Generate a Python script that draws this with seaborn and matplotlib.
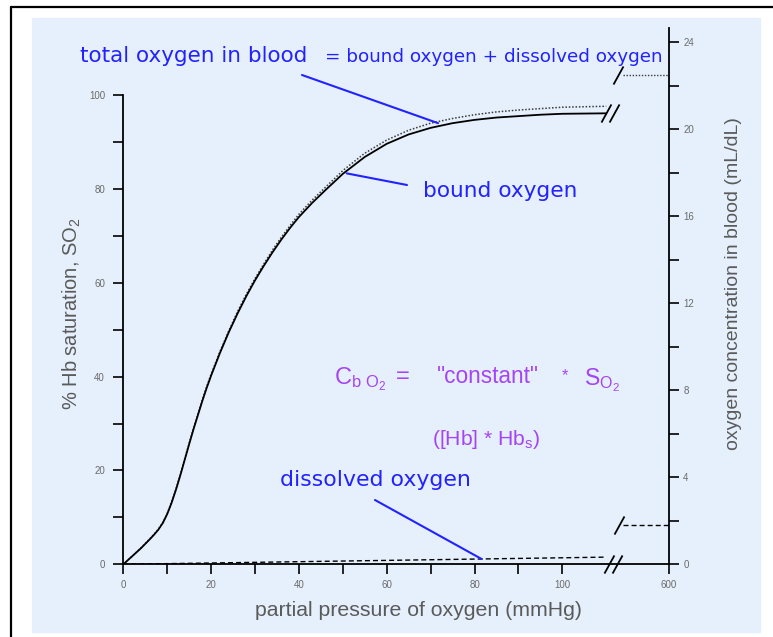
import numpy as np
import pandas as pd
import matplotlib
matplotlib.use("Agg")
import matplotlib.pyplot as plt
from matplotlib.path import Path
from matplotlib.patches import Rectangle
from matplotlib.lines import Line2D
import seaborn as sns

# ---- data -------------------------------------------------------------
# partial pressure of oxygen (mmHg)
po2 = [0, 2, 4, 6, 7, 8, 9, 10, 11, 12, 13, 14, 15, 16, 17, 18, 19, 20, 22,
       24, 26, 28, 30, 32, 34, 36, 38, 40, 43, 46, 50, 55, 60, 65, 70, 75, 80,
       85, 90, 95, 100, 110]
# haemoglobin saturation, bound oxygen (%)
bound_sat = [0, 1.7, 3.4, 5.3, 6.3, 7.4, 8.8, 10.7, 13.1, 15.9, 19.0, 22.3,
             25.6, 28.8, 31.8, 34.8, 37.6, 40.2, 45.0, 49.4, 53.4, 57.1, 60.5,
             63.6, 66.5, 69.2, 71.7, 74.0, 77.0, 79.7, 83.2, 86.8, 89.6, 91.6,
             93.0, 94.0, 94.7, 95.2, 95.5, 95.8, 96.0, 96.1]
# total oxygen (bound + dissolved), on the saturation scale (%)
total_sat = [0, 1.7, 3.5, 5.4, 6.4, 7.5, 8.9, 10.8, 13.3, 16.1, 19.2, 22.5,
             25.8, 29.0, 32.0, 35.1, 37.9, 40.5, 45.3, 49.7, 53.8, 57.5, 60.9,
             64.0, 67.0, 69.7, 72.2, 74.6, 77.6, 80.3, 83.9, 87.6, 90.4, 92.5,
             94.0, 95.0, 95.8, 96.4, 96.8, 97.1, 97.4, 97.6]
# dissolved oxygen (mL/dL)
dissolved_po2 = [0, 110]
dissolved_conc = [0.0, 0.33]
# values beyond the axis break, at PO2 = 600 mmHg (mL/dL)
high_po2 = 600
total_conc_high = 22.5
dissolved_conc_high = 1.8

sat_ticks = [0, 20, 40, 60, 80, 100]
sat_minor = [10, 30, 50, 70, 90]
conc_ticks = [0, 4, 8, 12, 16, 20, 24]
conc_minor = [2, 6, 10, 14, 18, 22]
po2_ticks = [0, 20, 40, 60, 80, 100, 600]
po2_minor = [10, 30, 50, 70, 90]

# ---- style ------------------------------------------------------------
sns.set_style("ticks")
plt.rcParams["font.family"] = ["Liberation Sans", "DejaVu Sans"]
plt.rcParams["mathtext.default"] = "regular"

W, H = 773, 637
fig = plt.figure(figsize=(W / 100, H / 100), dpi=100, facecolor="white")


def fx(x):
    return x / W


def fy(y):
    return 1 - y / H


PANEL = "#e6f0fc"
BLUE = "#2222ff"
PURPLE = "#a444f4"
GREY = "#5a5a5a"

# light panel and the frame lines along the top and left edges
fig.add_artist(Rectangle((fx(32), fy(632)), fx(760) - fx(32), fy(18) - fy(632),
                         transform=fig.transFigure, color=PANEL, zorder=0))
fig.add_artist(Line2D([fx(11), 1], [fy(7), fy(7)], transform=fig.transFigure,
                      color="black", lw=1.6))
fig.add_artist(Line2D([fx(11), fx(11)], [fy(7), 0], transform=fig.transFigure,
                      color="black", lw=1.6))

ax = fig.add_axes([fx(123.3), fy(564.3), fx(669) - fx(123.3), fy(28) - fy(564.3)])
ax.patch.set_alpha(0)

# broken x axis: linear up to the break, then compressed out to 600 mmHg
BREAK, SPAN_AFTER = 115.0, 9.3


def fwd(x):
    x = np.asarray(x, float)
    return np.where(x <= BREAK, x, BREAK + (x - BREAK) * SPAN_AFTER / (600 - BREAK))


def inv(y):
    y = np.asarray(y, float)
    return np.where(y <= BREAK, y, BREAK + (y - BREAK) * (600 - BREAK) / SPAN_AFTER)


ax.set_xscale("function", functions=(fwd, inv))
ax.set_xlim(0, 600)
ax.set_ylim(0, 114.28)

ax2 = ax.twinx()
ax2.set_ylim(0, 24.65)
ax2.patch.set_alpha(0)

curves = pd.DataFrame({"po2": po2, "bound": bound_sat, "total": total_sat})
dissolved = pd.DataFrame({"po2": dissolved_po2, "conc": dissolved_conc})

sns.lineplot(data=curves, x="po2", y="total", ax=ax, color="#3a3a3a", lw=1.1,
             linestyle=(0, (1, 1.2)))
sns.lineplot(data=curves, x="po2", y="bound", ax=ax, color="black", lw=1.3)
sns.lineplot(data=dissolved, x="po2", y="conc", ax=ax2, color="black", lw=1.0,
             linestyle=(0, (3.6, 2.2)))

# segments at 600 mmHg, to the right of the break
seg_start = 113.8
ax2.plot([seg_start, high_po2], [total_conc_high] * 2, color="#3a3a3a", lw=1.0,
         linestyle=(0, (1, 1.2)))
ax2.plot([seg_start, high_po2], [dissolved_conc_high] * 2, color="black",
         lw=1.0, linestyle=(0, (3.6, 2.2)))

# break marks
single = Path([(-0.55, -1), (0.55, 1)], [Path.MOVETO, Path.LINETO])
double = Path([(-1.0, -1), (0.1, 1), (-0.1, -1), (1.0, 1)],
              [Path.MOVETO, Path.LINETO, Path.MOVETO, Path.LINETO])
ax.plot([110.9], [96.2], marker=double, ms=13, mew=1.3, color="black",
        clip_on=False, zorder=5)
ax.plot([111.5], [0], marker=double, ms=13, mew=1.3, color="black",
        clip_on=False, zorder=5)
ax2.plot([112.6], [total_conc_high], marker=single, ms=13, mew=1.3,
         color="black", clip_on=False, zorder=5)
ax2.plot([112.8], [dissolved_conc_high], marker=single, ms=13, mew=1.3,
         color="black", clip_on=False, zorder=5)

# ---- axes -------------------------------------------------------------
for a in (ax, ax2):
    for s in a.spines.values():
        s.set_visible(False)
ax.spines["left"].set_visible(True)
ax.spines["left"].set_bounds(0, 100)
ax.spines["bottom"].set_visible(True)
ax2.spines["right"].set_visible(True)
for s in (ax.spines["left"], ax.spines["bottom"], ax2.spines["right"]):
    s.set_linewidth(1.3)
    s.set_color("black")

ax.set_yticks(sat_ticks)
ax.set_yticks(sat_minor, minor=True)
ax.set_xticks(po2_ticks)
ax.set_xticks(po2_minor, minor=True)
ax.set_xticklabels([str(t) for t in po2_ticks])
ax2.set_yticks(conc_ticks)
ax2.set_yticks(conc_minor, minor=True)

tick_kw = dict(direction="out", length=7.2, width=1.2, color="black",
               labelsize=7, labelcolor="#6a6a6a")
ax.tick_params(axis="y", which="both", pad=6, **tick_kw)
ax.tick_params(axis="x", which="both", pad=4, **tick_kw)
ax2.tick_params(axis="y", which="both", pad=3, **tick_kw)
ax.tick_params(axis="x", which="minor", labelbottom=False)
ax.tick_params(axis="y", which="minor", labelleft=False)
ax2.tick_params(axis="y", which="minor", labelright=False)

ax.set_xlabel("partial pressure of oxygen (mmHg)", fontsize=15.3, color=GREY)
ax.xaxis.set_label_coords((418.5 - 123.3) / (669 - 123.3), -(610 - 564.3) / (564.3 - 28))
ax.xaxis.label.set_va("center")
ax.set_ylabel("% Hb saturation, SO$_2$", fontsize=14.5, color=GREY)
ax.yaxis.set_label_coords((72 - 123.3) / (669 - 123.3), (564.3 - 314) / (564.3 - 28))
ax.yaxis.label.set_va("center")
ax2.set_ylabel("oxygen concentration in blood (mL/dL)", fontsize=14, color=GREY)
ax2.yaxis.set_label_coords((734 - 123.3) / (669 - 123.3), (564.3 - 284) / (564.3 - 28))
ax2.yaxis.label.set_va("center")

# ---- annotations ------------------------------------------------------
ann = dict(family=["DejaVu Sans"], color=BLUE)
fig.text(fx(80), fy(62), "total oxygen in blood", fontsize=15.5, va="baseline", **ann)
fig.text(fx(325), fy(62), "= bound oxygen + dissolved oxygen", fontsize=13.2,
         va="baseline", **ann)
fig.text(fx(423), fy(197), "bound oxygen", fontsize=15.6, va="baseline", **ann)
fig.text(fx(280), fy(486), "dissolved oxygen", fontsize=15.8, va="baseline", **ann)

arrow = dict(arrowstyle="-", color=BLUE, lw=1.5, shrinkA=0, shrinkB=0)
ax.annotate("", xy=(71.7, 94.0), xytext=(302, H - 75), textcoords="figure pixels",
            arrowprops=arrow)
ax.annotate("", xy=(50.9, 83.3), xytext=(407, H - 185), textcoords="figure pixels",
            arrowprops=arrow)
ax2.annotate("", xy=(81.6, 0.245), xytext=(375, H - 500), textcoords="figure pixels",
             arrowprops=arrow)

frm = dict(color=PURPLE, va="baseline")
fig.text(fx(334), fy(384), "C$_{b\\ O_2}$", fontsize=17, **frm)
fig.text(fx(396), fy(383), "=", fontsize=17, **frm)
fig.text(fx(437), fy(383), "\"constant\"", fontsize=16.3, **frm)
fig.text(fx(562), fy(380), "*", fontsize=12, **frm)
fig.text(fx(584), fy(385), "S$_{O_2}$", fontsize=16.5, **frm)
fig.text(fx(432), fy(445), "([Hb] * Hb$_s$)", fontsize=15.2, **frm)

fig.savefig("out.png", dpi=100, facecolor="white")
